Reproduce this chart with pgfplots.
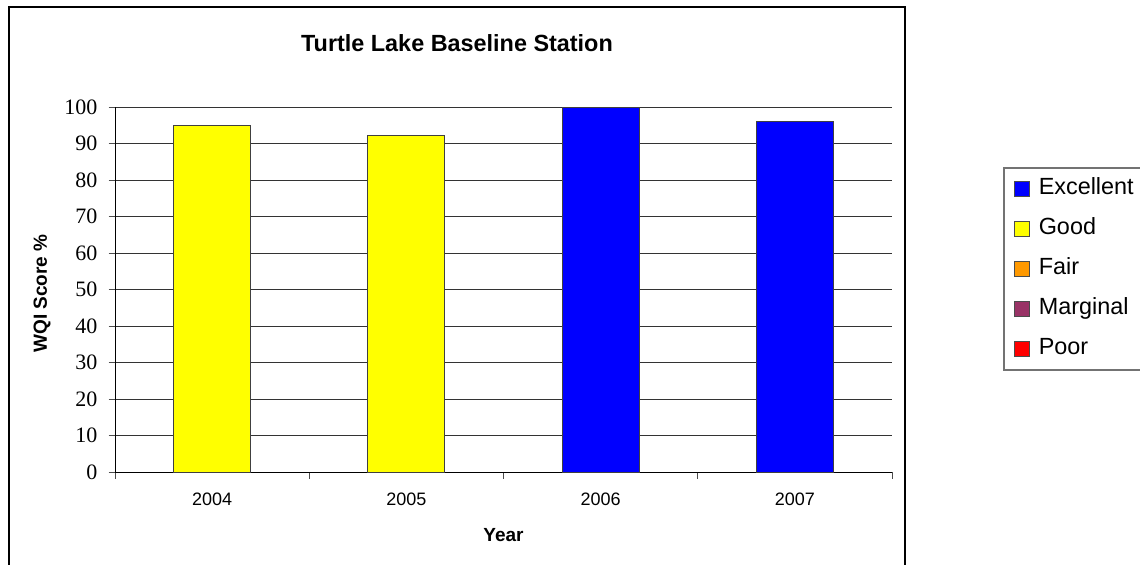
\documentclass[border=0pt]{standalone}
\usepackage{fontspec}
\setmainfont{Liberation Serif}
\setsansfont{Liberation Sans}
\usepackage{pgfplots}
\pgfplotsset{compat=1.18}

\definecolor{excellent}{RGB}{0,0,255}
\definecolor{good}{RGB}{255,255,0}
\definecolor{fair}{RGB}{255,153,0}
\definecolor{marginal}{RGB}{153,51,102}
\definecolor{poor}{RGB}{255,0,0}

\pgfplotsset{
  sq/.style={legend image code/.code={%
    \draw[##1, draw=black!70, line width=0.5pt] (0pt,-3.75pt) rectangle (7.5pt,3.75pt);}},
}

\begin{document}
\begin{tikzpicture}
\useasboundingbox (0,0) rectangle (570pt,-282pt);
% chart frame (runs off the bottom)
\draw[line width=1pt] (4.5pt,-290pt) -- (4.5pt,-3.5pt) -- (452.5pt,-3.5pt) -- (452.5pt,-290pt);

\begin{axis}[
    at={(57.5pt,-236pt)}, anchor=south west,
    scale only axis, width=388.5pt, height=182.5pt,
    ymin=0, ymax=100, ytick={0,10,...,100},
    xmin=-0.5, xmax=3.5,
    xtick={-0.5,0.5,1.5,2.5,3.5},
    x tick label as interval,
    xticklabels={2004,2005,2006,2007},
    axis x line=bottom, axis y line=left,
    axis line style={-, black, line width=0.5pt},
    tick align=outside, major tick length=3.25pt,
    tick style={black!70, line width=0.5pt},
    ymajorgrids, major grid style={black!80, line width=0.5pt},
    /pgf/number format/assume math mode=true,
    yticklabel style={font=\fontsize{11}{13}\selectfont, xshift=-2pt},
    xticklabel style={font=\sffamily\fontsize{9}{11}\selectfont, yshift=-3.5pt},
    legend style={at={(1.1429,0.8356)}, anchor=north west,
        draw=black!55, line width=0.75pt, inner sep=5pt,
        font=\sffamily\fontsize{11.7}{14}\selectfont,
        nodes={inner sep=0pt, text height=8.5pt, text depth=2.5pt, anchor=west},
        row sep=9pt,
        /tikz/every odd column/.append style={column sep=4.5pt}},
    legend cell align=left,
]
\addplot[ybar, bar shift=0pt, bar width=38.5pt, fill=excellent, draw=black!75, line width=0.5pt, sq]
    coordinates {(2,100) (3,96)};
\addplot[ybar, bar shift=0pt, bar width=38.5pt, fill=good, draw=black!75, line width=0.5pt, sq]
    coordinates {(0,95) (1,92.3)};
\addlegendimage{sq, fill=fair}
\addlegendimage{sq, fill=marginal}
\addlegendimage{sq, fill=poor}
\legend{Excellent, Good, Fair, Marginal, Poor}
\end{axis}

\node[anchor=base, font=\sffamily\bfseries\fontsize{11.7}{14}\selectfont]
    at (228.5pt,-25.5pt) {Turtle Lake Baseline Station};
\node[anchor=base, font=\sffamily\bfseries\fontsize{9.5}{11}\selectfont]
    at (251.75pt,-270.5pt) {Year};
\node[rotate=90, font=\sffamily\bfseries\fontsize{9.5}{11}\selectfont]
    at (21pt,-146.75pt) {WQI Score \%};
\end{tikzpicture}
\end{document}
